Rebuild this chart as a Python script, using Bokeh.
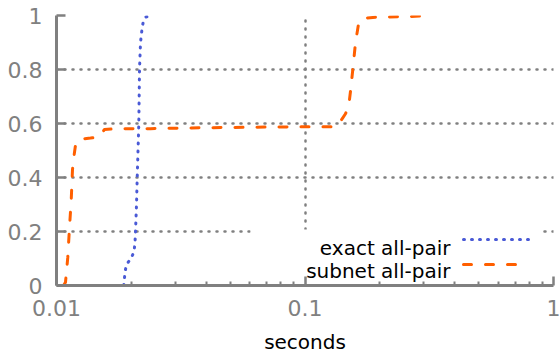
from bokeh.plotting import figure
from bokeh.models import (Range1d, FixedTicker, CustomJSTickFormatter, Label,
                          BoxAnnotation)
from bokeh.embed import file_html
from bokeh.resources import INLINE

# ---- data ----
exact_x = [0.018659, 0.018868, 0.019132, 0.019946, 0.020508, 0.020700, 0.020796,
           0.020989, 0.021126, 0.021283, 0.021441, 0.021580, 0.021782, 0.022127,
           0.022333, 0.022814, 0.024272]
exact_y = [0.0, 0.05, 0.078, 0.10, 0.125, 0.16, 0.20, 0.30, 0.40, 0.50, 0.60,
           0.80, 0.90, 0.957, 0.975, 0.994, 1.0]

subnet_x = [0.010670, 0.010870, 0.011104, 0.011281, 0.011460, 0.011599, 0.011761,
            0.011926, 0.012149, 0.012725, 0.013703, 0.014758, 0.015034, 0.015602,
            0.017275, 0.023892, 0.037976, 0.060355, 0.095916, 0.13266, 0.13678,
            0.14555, 0.15007, 0.15246, 0.15574, 0.15969, 0.16464, 0.17197,
            0.19528, 0.26576, 0.3199]
subnet_y = [0.0, 0.012, 0.105, 0.216, 0.315, 0.43, 0.48, 0.52, 0.537, 0.543,
            0.546, 0.55, 0.556, 0.578, 0.58, 0.581, 0.584, 0.586, 0.588, 0.588,
            0.599, 0.636, 0.667, 0.72, 0.80, 0.90, 0.975, 0.99, 0.994, 0.996, 1.0]

x_ticks = [0.01, 0.1, 1]
x_minor = [m * 10.0 ** e for e in (-2, -1) for m in range(2, 10)]
y_ticks = [0, 0.2, 0.4, 0.6, 0.8, 1]

series_labels = ["exact all-pair", "subnet all-pair"]
series_colors = ["#4a5ad6", "#ff5f00"]
x_label = "seconds"

GRAY = "#808080"
FONT = "DejaVu Sans"

p = figure(width=560, height=356, x_axis_type="log",
           x_range=Range1d(0.01, 1), y_range=Range1d(0, 1),
           output_backend="svg", toolbar_location=None,
           min_border_left=56, min_border_right=7, min_border_top=15,
           min_border_bottom=71)
p.outline_line_color = None
p.background_fill_color = "white"
p.border_fill_color = "white"

# axes
code = "return String(Number(tick.toPrecision(6)));"
p.xaxis.ticker = FixedTicker(ticks=x_ticks, minor_ticks=x_minor)
p.yaxis.ticker = FixedTicker(ticks=y_ticks)
p.xaxis.formatter = CustomJSTickFormatter(code=code)
p.yaxis.formatter = CustomJSTickFormatter(code=code)
for ax in (p.xaxis[0], p.yaxis[0]):
    ax.axis_line_color = GRAY
    ax.axis_line_width = 3
    ax.major_tick_line_color = GRAY
    ax.major_tick_line_width = 2.5
    ax.major_tick_in = 9
    ax.major_tick_out = 0
    ax.minor_tick_line_color = GRAY
    ax.minor_tick_line_width = 2
    ax.minor_tick_in = 4
    ax.minor_tick_out = 0
    ax.major_label_text_font = FONT
    ax.major_label_text_font_size = "22px"
    ax.major_label_text_color = GRAY
p.yaxis.minor_tick_line_color = None
p.xaxis.major_label_standoff = 14
p.yaxis.major_label_standoff = 14

p.xaxis.axis_label = x_label
p.xaxis.axis_label_text_font = FONT
p.xaxis.axis_label_text_font_size = "20px"
p.xaxis.axis_label_text_font_style = "normal"
p.xaxis.axis_label_text_color = "black"
p.xaxis.axis_label_standoff = 11

# grid
for g in (p.xgrid[0], p.ygrid[0]):
    g.grid_line_color = GRAY
    g.grid_line_width = 2.5
    g.grid_line_dash = "1 7"
    g.grid_line_cap = "round"

# legend background (hides grid behind legend)
box = BoxAnnotation(left=0.0604, right=0.8786, bottom=0, top=0.2074,
                    fill_color="white", fill_alpha=1.0, line_color=None,
                    level="underlay")
p.add_layout(box)

# data lines
p.line(exact_x, exact_y, line_color=series_colors[0], line_width=3,
       line_dash="1 7", line_cap="round")
p.line(subnet_x, subnet_y, line_color=series_colors[1], line_width=3,
       line_dash="8 14", line_cap="round")

# manual legend (label on the left, sample on the right)
leg_text_x = 0.3848
leg_y = [0.1396, 0.0519]
sample_y = [0.1704, 0.0778]
sample_x0 = 0.4343
sample_x1 = [0.7933, 0.7231]
dashes = ["1 7", "8 14"]
for i in range(2):
    p.add_layout(Label(x=leg_text_x, y=leg_y[i], text=series_labels[i],
                       text_align="right", text_baseline="alphabetic",
                       text_font=FONT, text_font_size="20px",
                       text_color="black"))
    p.line([sample_x0, sample_x1[i]], [sample_y[i], sample_y[i]],
           line_color=series_colors[i], line_width=3, line_dash=dashes[i],
           line_cap="round")

open("out.html", "w").write(file_html(p, INLINE))
